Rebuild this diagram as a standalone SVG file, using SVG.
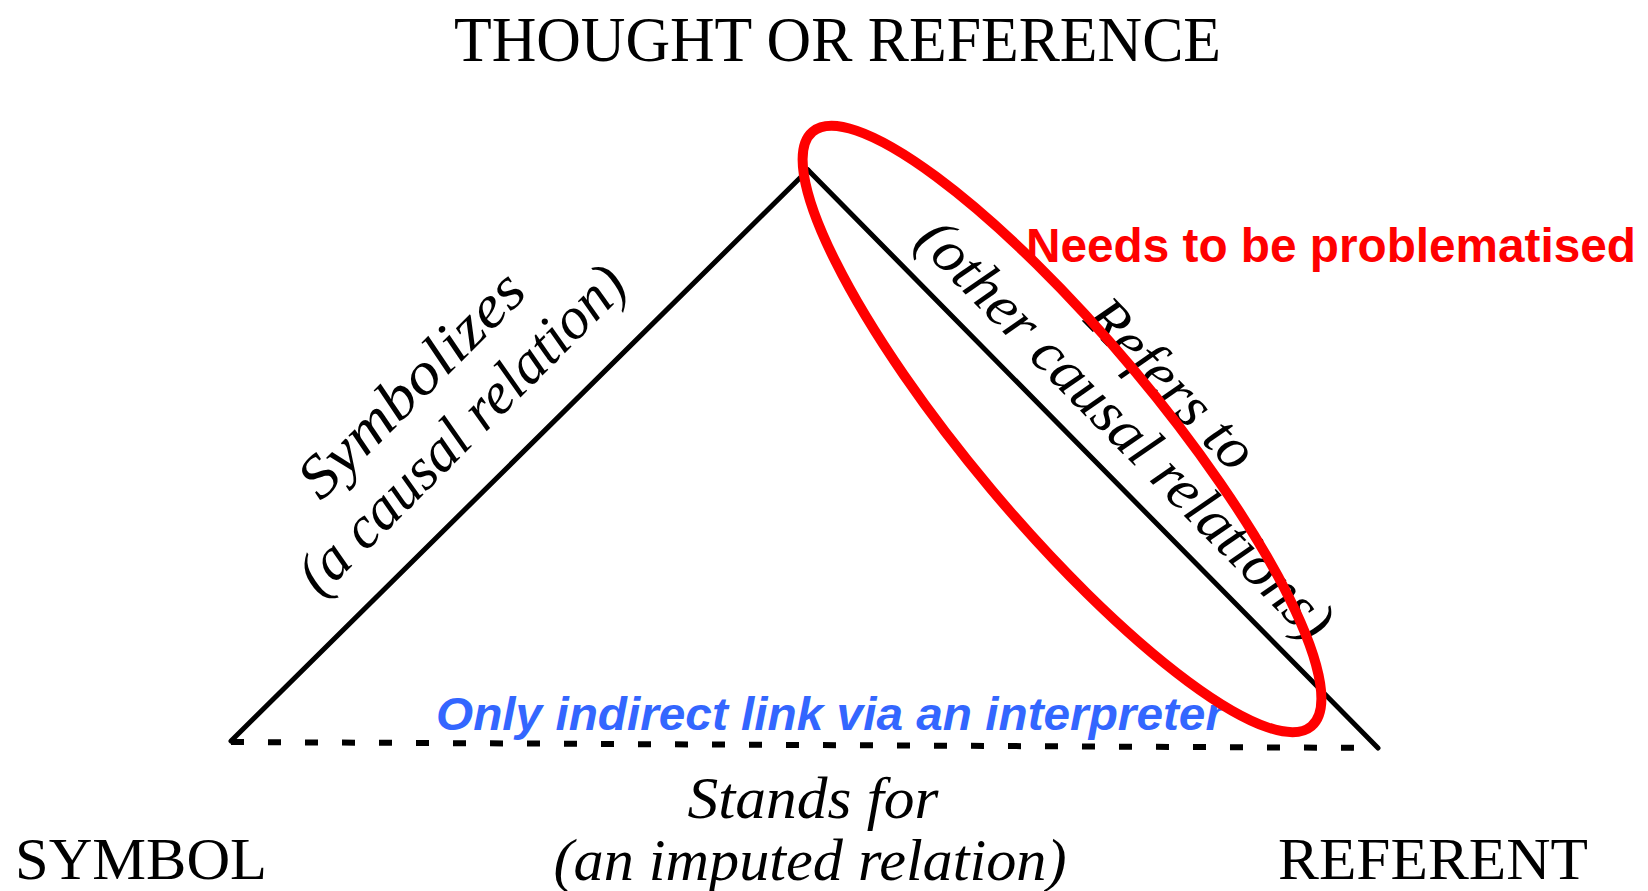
<svg xmlns="http://www.w3.org/2000/svg" width="1648" height="891" viewBox="0 0 1648 891">
<style>
.node{font-family:"Liberation Serif","Times New Roman",serif;fill:#000;}
.lbl{font-family:"Liberation Serif","Times New Roman",serif;font-style:italic;fill:#000;font-size:60px;text-anchor:middle;}
.edge{stroke:#000;stroke-width:5;fill:none;stroke-linecap:round;}
.dash{stroke:#000;stroke-width:6;fill:none;stroke-dasharray:13 24;}
.red{font-family:"Liberation Sans",Arial,sans-serif;font-weight:bold;fill:#FF0000;font-size:48px;}
.blue{font-family:"Liberation Sans",Arial,sans-serif;font-weight:bold;font-style:italic;fill:#3366FF;font-size:47px;}
</style>
<rect width="1648" height="891" fill="#fff"/>
<g id="connectors">
  <line class="edge" x1="231" y1="741" x2="808" y2="170"/>
  <line class="edge" x1="808" y1="170" x2="1378" y2="748"/>
  <line class="dash" x1="231" y1="742" x2="1378" y2="748"/>
  <text class="lbl" transform="translate(425,398) rotate(-45)" textLength="294" lengthAdjust="spacingAndGlyphs">Symbolizes</text>
  <text class="lbl" transform="translate(475,443) rotate(-45)" textLength="438" lengthAdjust="spacingAndGlyphs">(a causal relation)</text>
  <text class="lbl" transform="translate(1157.5,397.5) rotate(45.4)">Refers to</text>
  <text class="lbl" transform="translate(1112,443) rotate(45.4)">(other causal relations)</text>
  <text class="lbl" x="813" y="818" font-size="62" textLength="251" lengthAdjust="spacingAndGlyphs">Stands for</text>
  <text class="lbl" x="810" y="880" font-size="62" textLength="513" lengthAdjust="spacingAndGlyphs">(an imputed relation)</text>
</g>
<g id="thought">
  <text class="node" x="454" y="61" font-size="64" textLength="767" lengthAdjust="spacingAndGlyphs">THOUGHT OR REFERENCE</text>
</g>
<g id="symbol">
  <text class="node" x="15" y="879" font-size="60" textLength="252" lengthAdjust="spacingAndGlyphs">SYMBOL</text>
</g>
<g id="referent">
  <text class="node" x="1278" y="879" font-size="60" textLength="310" lengthAdjust="spacingAndGlyphs">REFERENT</text>
</g>
<g id="note-interpreter">
  <text class="blue" x="436" y="730" textLength="788" lengthAdjust="spacingAndGlyphs">Only indirect link via an interpreter</text>
</g>
<g id="note-problem">
  <ellipse cx="1062" cy="429" rx="388" ry="93" transform="rotate(50 1062 429)" fill="none" stroke="#FF0000" stroke-width="10"/>
  <text class="red" x="1026" y="262" textLength="610" lengthAdjust="spacingAndGlyphs">Needs to be problematised</text>
</g>
</svg>
